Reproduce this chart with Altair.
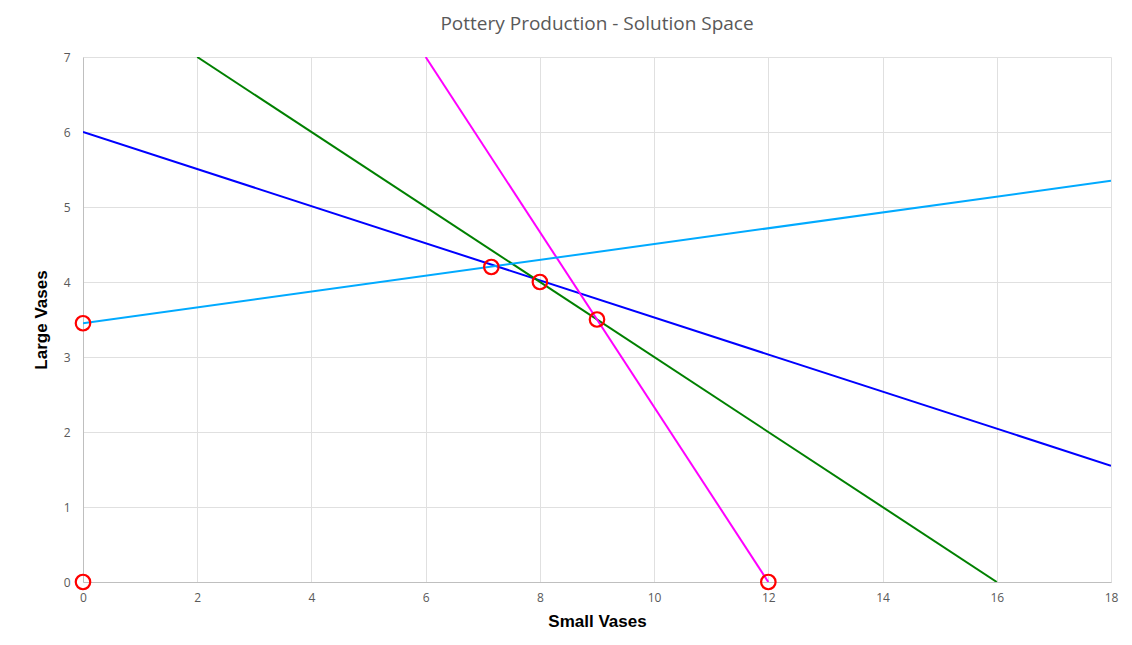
import pandas as pd
import altair as alt

# constraint lines, each drawn between two end points
line_names = ["Labour", "Clay", "Glaze", "Ratio"]
line_colors = ["#0000ff", "#008000", "#ff00ff", "#00aaff"]
line_x0 = [0, 2, 6, 0]
line_y0 = [6, 7, 7, 3.45]
line_x1 = [18, 16, 12, 18]
line_y1 = [1.55, 0, 0, 5.35]

# corner points of the feasible region
corner_x = [0, 0, 7.15, 8, 9, 12]
corner_y = [0, 3.45, 4.2, 4, 3.5, 0]

x_ticks = [0, 2, 4, 6, 8, 10, 12, 14, 16, 18]
y_ticks = [0, 1, 2, 3, 4, 5, 6, 7]

rows = []
for name, x0, y0, x1, y1 in zip(line_names, line_x0, line_y0, line_x1, line_y1):
    rows.append({"series": name, "x": x0, "y": y0, "order": 0})
    rows.append({"series": name, "x": x1, "y": y1, "order": 1})
lines_df = pd.DataFrame(rows)
corners_df = pd.DataFrame({"x": corner_x, "y": corner_y})

x_enc = alt.X("x:Q", title="Small Vases",
              scale=alt.Scale(domain=[0, 18], nice=False),
              axis=alt.Axis(values=x_ticks, format="d", grid=True, ticks=False,
                            labelFlush=False, labelPadding=10, titlePadding=10))
y_enc = alt.Y("y:Q", title="Large Vases",
              scale=alt.Scale(domain=[0, 7], nice=False),
              axis=alt.Axis(values=y_ticks, format="d", grid=True, ticks=False,
                            labelFlush=False, labelPadding=13, titlePadding=13))

lines = alt.Chart(lines_df).mark_line(strokeWidth=2, clip=True).encode(
    x=x_enc,
    y=y_enc,
    color=alt.Color("series:N", scale=alt.Scale(domain=line_names, range=line_colors),
                    legend=None),
    order="order:O",
)

points = alt.Chart(corners_df).mark_point(
    shape="circle", size=210, filled=False, color="#ff0000", strokeWidth=2.2, opacity=1
).encode(x="x:Q", y="y:Q")

chart = alt.layer(lines, points).properties(
    width=1028,
    height=525,
    autosize=alt.AutoSizeParams(type="none"),
    padding={"left": 75, "top": 49, "right": 13, "bottom": 55},
    title=alt.Title("Pottery Production - Solution Space", font="Open Sans",
                    fontSize=19, fontWeight="normal", color="#595959", offset=17),
).configure_view(
    stroke=None
).configure_axis(
    gridColor="#e0e0e0",
    domainColor="#bfbfbf",
    labelColor="#595959",
    labelFont="Open Sans",
    labelFontSize=12,
    titleFont="Liberation Sans",
    titleFontSize=17,
    titleFontWeight="bold",
    titleColor="#000000",
)

chart.save("out.html", embed_options={"renderer": "svg", "actions": False})
